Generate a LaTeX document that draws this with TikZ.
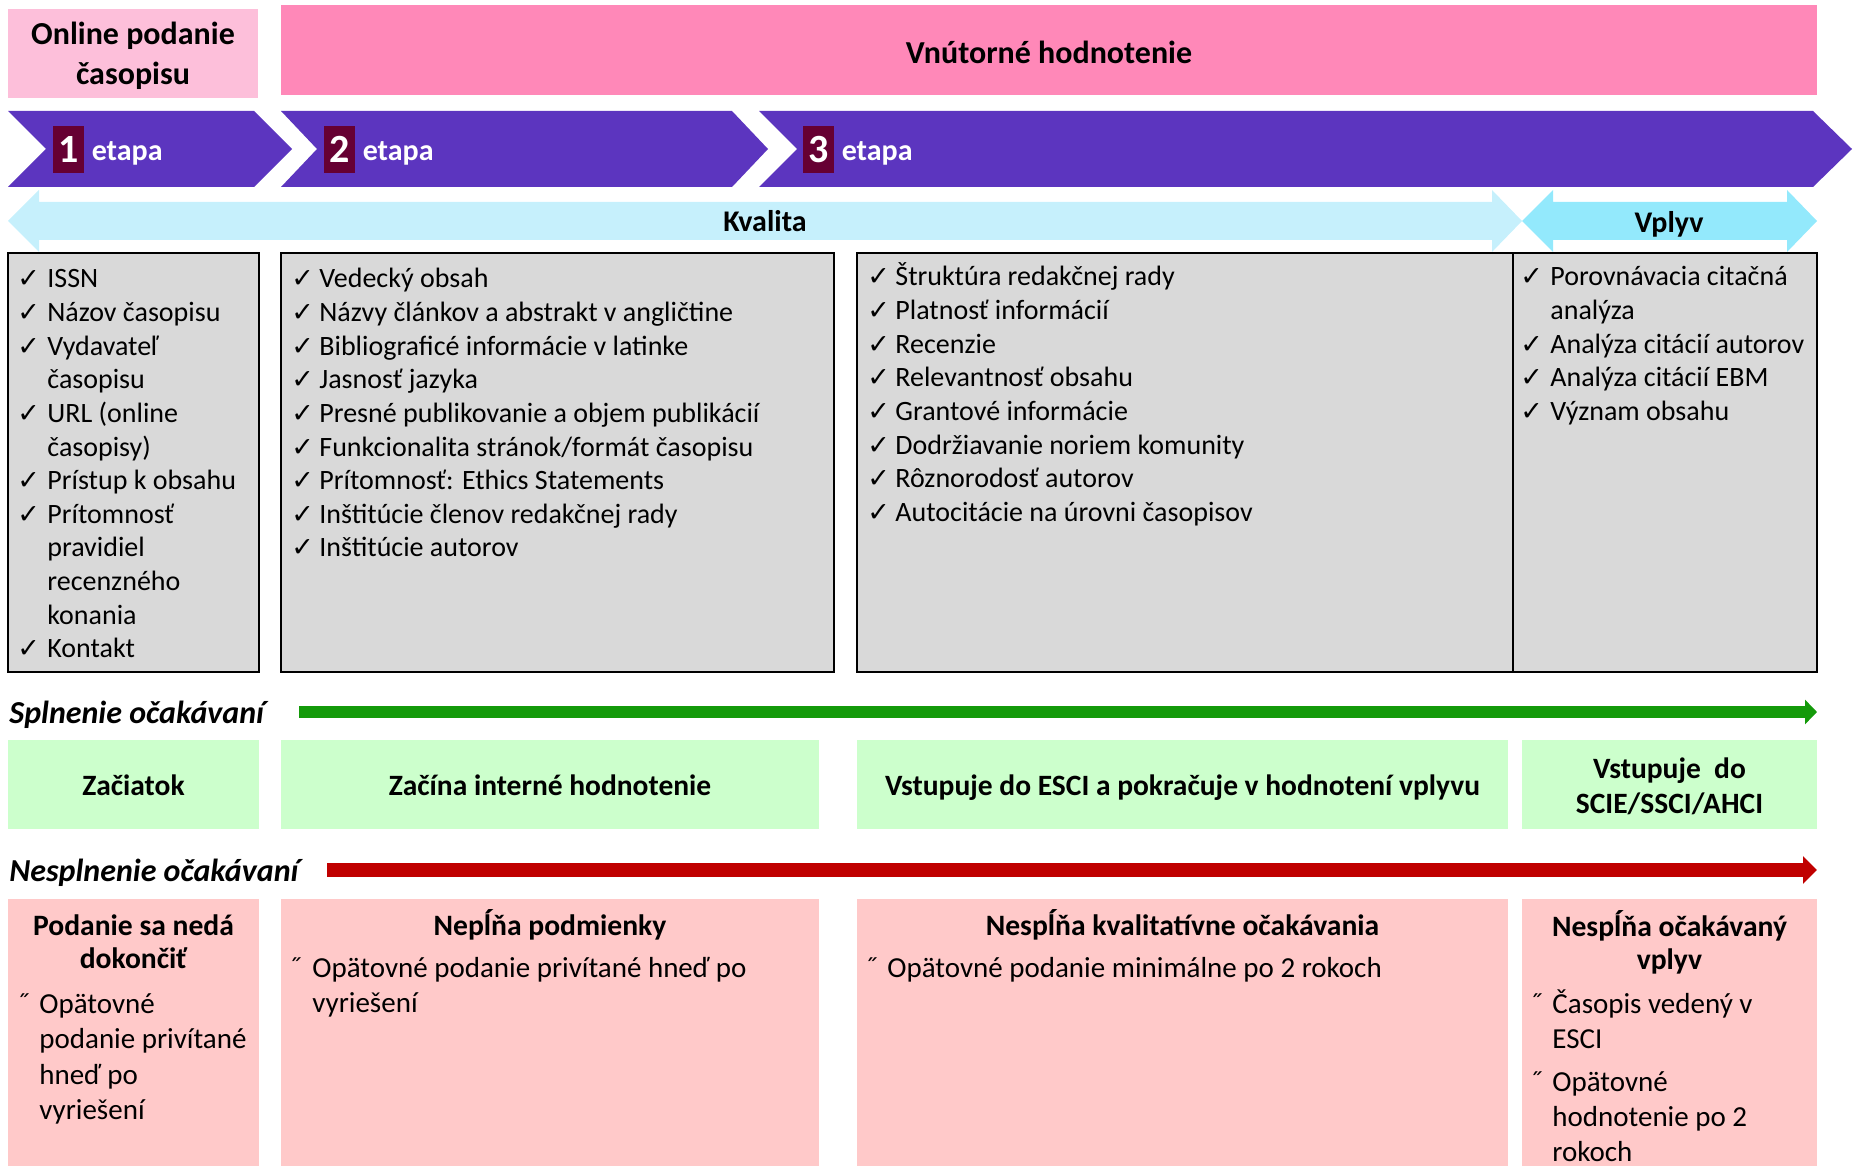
\documentclass[tikz,border=0pt]{standalone}
\usepackage{fontspec}
\setmainfont{Carlito}
\newfontfamily\symfont{DejaVu Sans}
\usetikzlibrary{positioning,arrows.meta}

\definecolor{onlinepink}{HTML}{FDBFDA}
\definecolor{hotpink}{HTML}{FF88B8}
\definecolor{etapaviolet}{HTML}{5C35BF}
\definecolor{etapanum}{HTML}{660033}
\definecolor{kvalcyan}{HTML}{C6F0FC}
\definecolor{vplyvcyan}{HTML}{93E9FC}
\definecolor{critgray}{HTML}{D9D9D9}
\definecolor{okgreen}{HTML}{CCFFCC}
\definecolor{failpink}{HTML}{FFC9C9}
\definecolor{okline}{HTML}{149A0A}
\definecolor{failline}{HTML}{C00000}

\begin{document}
\begin{tikzpicture}[x=0.5pt,y=-0.5pt,
		head/.style={font=\fontsize{16}{20}\selectfont\bfseries,align=center,inner sep=0pt},
		stage/.style={fill=etapaviolet},
		num/.style={fill=etapanum,text=white,font=\fontsize{20}{22}\selectfont\bfseries,
			minimum width=15.5pt,minimum height=23.5pt,inner sep=0pt},
		etapa/.style={text=white,font=\fontsize{15}{18}\selectfont\bfseries,inner sep=0pt,yshift=-1.75pt},
		band/.style={font=\fontsize{15}{18}\selectfont\bfseries,inner sep=0pt},
		crit/.style={fill=critgray,draw=black,line width=1pt},
		item/.style={font=\fontsize{14}{17}\selectfont,inner sep=0pt,anchor=base west},
		tick/.style={font=\symfont\fontsize{13.5}{15}\selectfont,inner sep=0pt,anchor=base west},
		sect/.style={font=\fontsize{16}{19}\selectfont\bfseries\itshape,inner sep=0pt,anchor=west},
		okbox/.style={fill=okgreen},
		oktext/.style={font=\fontsize{14.75}{17.5}\selectfont\bfseries,align=center,inner sep=0pt},
		failbox/.style={fill=failpink},
		failhead/.style={font=\fontsize{14.8}{16.5}\selectfont\bfseries,align=center,inner sep=0pt},
		failtext/.style={font=\fontsize{14.5}{17.5}\selectfont,inner sep=0pt,anchor=base west},
		okarrow/.style={draw=okline,line width=6pt,-{Triangle[length=6pt,width=12pt]}},
		failarrow/.style={draw=failline,line width=7pt,-{Triangle[length=7pt,width=13.5pt]}}]
	\useasboundingbox (0,0) rectangle (1854,1166);

	% hlavicka
	\fill[onlinepink] (8,9) rectangle (258,98);
	\node[head] (online) at (133,56) {Online podanie\\časopisu};
	\fill[hotpink] (281,5) rectangle (1817,95);
	\node[head] (intern) at (1049,52) {Vnútorné hodnotenie};

	% etapy
	\fill[stage] (8,111) -- (254,111) -- (292,149) -- (254,187) -- (8,187) -- (46,149) -- cycle;
	\fill[stage] (281,111) -- (732,111) -- (768,149) -- (732,187) -- (281,187) -- (317,149) -- cycle;
	\fill[stage] (759,111) -- (1813,111) -- (1852,149) -- (1813,187) -- (759,187) -- (797,149) -- cycle;
	\node[num] (n1) at (68.5,149.5) {1};
	\node[etapa,right=3.5pt of n1] (e1) {etapa};
	\node[num] (n2) at (339.5,149.5) {2};
	\node[etapa,right=3.5pt of n2] (e2) {etapa};
	\node[num] (n3) at (818.5,149.5) {3};
	\node[etapa,right=3.5pt of n3] (e3) {etapa};

	% kvalita a vplyv
	\fill[kvalcyan] (8,221) -- (39,190) -- (39,202) -- (1492,202) -- (1492,190) -- (1522,221)
		-- (1492,252) -- (1492,240) -- (39,240) -- (39,252) -- cycle;
	\fill[vplyvcyan] (1522,221) -- (1553,190) -- (1553,202) -- (1787,202) -- (1787,190) -- (1817,221)
		-- (1787,252) -- (1787,240) -- (1553,240) -- (1553,252) -- cycle;
	\node[band] (kval) at (765,221) {Kvalita};
	\node[band] (vpl) at (1669,224) {Vplyv};

	% kriteria
	\draw[crit] (8,253) rectangle (259,672);
	\draw[crit] (281,253) rectangle (834,672);
	\draw[crit] (857,253) rectangle (1513,672);
	\draw[crit] (1513,253) rectangle (1817,672);

	\foreach \t [count=\i] in {ISSN,Názov časopisu,Vydavateľ,časopisu,URL (online,časopisy),Prístup k obsahu,
		Prítomnosť,pravidiel,recenzného,konania,Kontakt}
		\node[item] (a\i) at (47,{288+33.6*(\i-1)}) {\t};
	\foreach \i in {1,2,3,5,7,8,12}
		\node[tick] (ta\i) at ([xshift=-15pt]a\i.base west) {✓};

	\foreach \t [count=\i] in {Vedecký obsah,Názvy článkov a abstrakt v angličtine,Bibliograficé informácie v latinke,
		Jasnosť jazyka,Presné publikovanie a objem publikácií,Funkcionalita stránok/formát časopisu,
		Prítomnosť: Ethics Statements,Inštitúcie členov redakčnej rady,Inštitúcie autorov}
		{\node[item] (b\i) at (319,{288+33.6*(\i-1)}) {\t};
		\node[tick] (tb\i) at ([xshift=-14pt]b\i.base west) {✓};}

	\foreach \t [count=\i] in {Štruktúra redakčnej rady,Platnosť informácií,Recenzie,Relevantnosť obsahu,
		Grantové informácie,Dodržiavanie noriem komunity,Rôznorodosť autorov,Autocitácie na úrovni časopisov}
		{\node[item] (c\i) at (895,{286+33.6*(\i-1)}) {\t};
		\node[tick] (tc\i) at ([xshift=-14pt]c\i.base west) {✓};}

	\foreach \t [count=\i] in {Porovnávacia citačná,analýza,Analýza citácií autorov,Analýza citácií EBM,Význam obsahu}
		\node[item] (d\i) at (1550,{286+33.6*(\i-1)}) {\t};
	\foreach \i in {1,3,4,5}
		\node[tick] (td\i) at ([xshift=-15pt]d\i.base west) {✓};

	% splnenie
	\node[sect] (spl) at (9,714.5) {Splnenie\ očakávaní};
	\coordinate (okA) at (299,712);
	\coordinate (okB) at (1817,712);
	\draw[okarrow] (okA) -- (okB);
	\fill[okbox] (8,740) rectangle (259,829);
	\fill[okbox] (281,740) rectangle (819,829);
	\fill[okbox] (857,740) rectangle (1508,829);
	\fill[okbox] (1522,740) rectangle (1817,829);
	\node[oktext] (g1) at (133.5,785) {Začiatok};
	\node[oktext] (g2) at (550,785) {Začína interné hodnotenie};
	\node[oktext] (g3) at (1182.5,787.5) {Vstupuje do ESCI a pokračuje v hodnotení vplyvu};
	\node[oktext] (g4) at (1669.5,786) {Vstupuje\ \ do\\SCIE/SSCI/AHCI};

	% nesplnenie
	\node[sect] (nespl) at (9,872.5) {Nesplnenie očakávaní};
	\coordinate (failA) at (327,870);
	\coordinate (failB) at (1817,870);
	\draw[failarrow] (failA) -- (failB);
	\fill[failbox] (8,899) rectangle (259,1166);
	\fill[failbox] (281,899) rectangle (819,1166);
	\fill[failbox] (857,899) rectangle (1508,1166);
	\fill[failbox] (1522,899) rectangle (1817,1166);

	\node[failhead] (h1) at (133.5,942) {Podanie sa nedá\\dokončiť};
	\node[failtext] (s1) at (16,1013) {˝};
	\foreach \t [count=\i] in {Opätovné,podanie privítané,hneď po,vyriešení}
		\node[failtext] (p\i) at (39,{1013+35.5*(\i-1)}) {\t};

	\node[failhead] (h2) at (550,925) {Nepĺňa podmienky};
	\node[failtext] (s2) at (288,977) {˝};
	\node[failtext] (q1) at (312,977) {Opätovné podanie privítané hneď po};
	\node[failtext] (q2) at (312,1012.5) {vyriešení};

	\node[failhead] (h3) at (1182.5,925) {Nespĺňa kvalitatívne očakávania};
	\node[failtext] (s3) at (864,977) {˝};
	\node[failtext] (r1) at (887,977) {Opätovné podanie minimálne po 2 rokoch};

	\node[failhead] (h4) at (1669.5,942) {Nespĺňa očakávaný\\vplyv};
	\node[failtext] (s4) at (1529,1013) {˝};
	\node[failtext] (u1) at (1552,1013) {Časopis vedený v};
	\node[failtext] (u2) at (1552,1048) {ESCI};
	\node[failtext] (s5) at (1529,1091) {˝};
	\foreach \t [count=\i] in {Opätovné,hodnotenie po 2,rokoch}
		\node[failtext] (w\i) at (1552,{1091+35*(\i-1)}) {\t};
\end{tikzpicture}
\end{document}
